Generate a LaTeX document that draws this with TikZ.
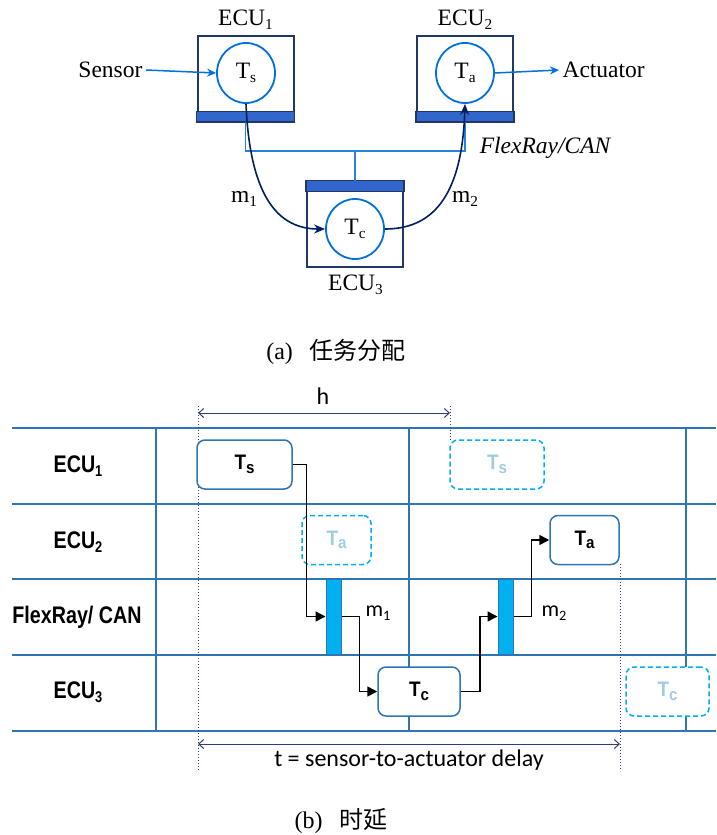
\documentclass[tikz,border=0pt]{standalone}
\usepackage{fontspec}
\setmainfont{Liberation Serif}
\newfontfamily\cjk{Noto Sans CJK SC}
\newfontfamily\arl[FakeStretch=0.82]{Liberation Sans}
\newfontfamily\arlt[FakeStretch=0.9]{Liberation Sans}
\newfontfamily\calfnt{Carlito}
\usetikzlibrary{arrows.meta,shapes.geometric}
\newcommand{\mysub}[1]{\raisebox{-0.35ex}{\scalebox{0.65}{#1}}}
\newcommand{\tsub}[1]{\raisebox{-0.3ex}{\scalebox{0.8}{#1}}}
\definecolor{navy}{RGB}{31,56,100}
\definecolor{bandblue}{RGB}{51,102,204}
\definecolor{ellblue}{RGB}{0,112,220}
\definecolor{busblue}{RGB}{40,130,220}
\definecolor{curvenavy}{RGB}{0,32,96}
\definecolor{gridblue}{RGB}{46,117,182}
\definecolor{ghostline}{RGB}{0,176,240}
\definecolor{ghosttext}{RGB}{160,205,225}
\definecolor{barcyan}{RGB}{0,176,240}
\definecolor{dotnavy}{RGB}{50,60,120}
\tikzset{
  topfont/.style={font=\fontsize{23.5}{28}\selectfont},
  ecubox/.style={draw=navy, line width=2pt, minimum width=96pt, minimum height=85pt, inner sep=0pt},
  band/.style={fill=bandblue, draw=navy, line width=1.5pt},
  taskell/.style={ellipse, draw=ellblue, line width=1.8pt, minimum width=58pt, minimum height=60pt, inner sep=0pt, topfont},
  bus/.style={busblue, line width=1.5pt},
  ioarrow/.style={ellblue, line width=1.5pt, -{Stealth[length=9pt,width=8pt]}},
  msgcurve/.style={curvenavy, line width=1.6pt, -{Stealth[length=11pt,width=9pt]}},
  gridh/.style={gridblue, line width=2.5pt},
  gridv/.style={gridblue, line width=1.3pt},
  rowlabel/.style={font=\arl\bfseries\fontsize{24}{24}\selectfont},
  task/.style={draw=gridblue, rounded corners=8pt, line width=1.5pt, fill=white, minimum height=49pt, inner sep=0pt, font=\arlt\bfseries\fontsize{21}{21}\selectfont},
  ghosttask/.style={task, draw=ghostline, dash pattern=on 5pt off 3pt, text=ghosttext},
  msgbar/.style={fill=barcyan, draw=gridblue, line width=1pt, minimum width=15pt, minimum height=75pt, inner sep=0pt},
  flow/.style={black, line width=1.5pt, -{Triangle[length=10pt,width=10pt]}},
  dotline/.style={dotnavy, dotted, line width=1pt},
  dimarrow/.style={dotnavy, line width=1pt, {Straight Barb[length=5pt,width=9pt]}-{Straight Barb[length=5pt,width=9pt]}},
  calfont/.style={font=\calfnt\fontsize{24}{28}\selectfont},
  msgfont/.style={font=\calfnt\fontsize{22}{26}\selectfont}
}
\begin{document}
\begin{tikzpicture}[x=1pt,y=-1pt]
\useasboundingbox (0,0) rectangle (716,835);
% ---------- (a) ----------
\node[ecubox] (e1) at (245.5,78.5) {};
\node[ecubox] (e2) at (465,78.5) {};
\node[ecubox] (e3) at (355,224) {};
\fill[band] (e1.south west) rectangle ([yshift=10.5pt]e1.south east);
\fill[band] (e2.south west) rectangle ([yshift=10.5pt]e2.south east);
\fill[band] (e3.north west) rectangle ([yshift=-11pt]e3.north east);
\node[taskell] (ts) at (246,73) {T\mysub{s}};
\node[taskell] (ta) at (465,73) {T\mysub{a}};
\node[taskell] (tc) at (355,229) {T\mysub{c}};
\node[topfont] (l1) at (245.5,20) {ECU\mysub{1}};
\node[topfont] (l2) at (465,20) {ECU\mysub{2}};
\node[topfont] (l3) at (355.5,285) {ECU\mysub{3}};
\node[topfont, anchor=east] (sensor) at (146,70) {Sensor};
\node[topfont, anchor=west] (act) at (559,70) {Actuator};
\draw[ioarrow] (sensor.east) -- (ts.west);
\draw[ioarrow] (ta.east) -- (act.west);
\coordinate (busL) at (245.5,151);
\draw[bus] (e1.south) -- (busL) -- (busL -| e2.south) -- (e2.south);
\draw[bus] (e3.north) -- (e3.north |- busL);
\draw[msgcurve] (ts.south) .. controls (250,200) and (280,229) .. (tc.west);
\draw[msgcurve] (tc.east) .. controls (430,229) and (462,200) .. (ta.south);
\node[topfont] (m1a) at (244,199) {m\mysub{1}};
\node[topfont] (m2a) at (465,199) {m\mysub{2}};
\node[topfont] (bus) at (545,148) {\itshape FlexRay/CAN};
\node[font=\fontsize{24}{28}\selectfont] (capa) at (336,352) {(a)\hspace{0.7em}{\cjk 任务分配}};
% ---------- (b) ----------
\foreach \yy in {428,504,579,655,731} \draw[gridh] (12,\yy) -- (716,\yy);
\foreach \xx in {156,409,686} \draw[gridv] (\xx,428) -- (\xx,731);
\node[rowlabel] (r1) at (78,466) {ECU\mysub{1}};
\node[rowlabel] (r2) at (78,542) {ECU\mysub{2}};
\node[rowlabel] (r3) at (77,617) {FlexRay/ CAN};
\node[rowlabel] (r4) at (78,692) {ECU\mysub{3}};
% dotted guides
\coordinate (hL) at (198,413);
\coordinate (hR) at (450,413);
\coordinate (tL) at (198,744);
\coordinate (tR) at (620,744);
\draw[dotline] (198,406) -- (198,771);
\draw[dotline] (450,406) -- (450,442);
\draw[dotline] (620,564) -- (620,771);
% tasks
\node[task, minimum width=95pt] (tsb) at (244.5,464.5) {T\tsub{s}};
\node[ghosttask, minimum width=94pt] (gts) at (497,464.5) {T\tsub{s}};
\node[ghosttask, minimum width=69pt] (gta) at (336.5,540) {T\tsub{a}};
\node[task, minimum width=69pt] (tab) at (584.5,540) {T\tsub{a}};
\node[task, minimum width=82pt] (tcb) at (419,691.5) {T\tsub{c}};
\node[ghosttask, minimum width=83pt] (gtc) at (667.5,691.5) {T\tsub{c}};
\node[msgbar] (bar1) at (333.5,616.5) {};
\node[msgbar] (bar2) at (505.5,616.5) {};
% flows
\draw[flow] (tsb.east) -| ([xshift=-19pt]bar1.west) -- (bar1.west);
\draw[flow] (bar1.east) -- ++(18,0) |- (tcb.west);
\draw[flow] (tcb.east) -- ++(19,0) |- (bar2.west);
\draw[flow] (bar2.east) -- ++(18,0) |- (tab.west);
\node[msgfont] (m1b) at (378,613) {m\mysub{1}};
\node[msgfont] (m2b) at (554,613) {m\mysub{2}};
% dimensions
\draw[dimarrow] (hL) -- (hR);
\node[calfont] (hlab) at (323,396) {h};
\draw[dimarrow] (tL) -- (tR);
\node[calfont] (tlab) at (409,760) {t = sensor-to-actuator delay};
\node[font=\fontsize{24}{28}\selectfont] (capb) at (341,821) {(b)\hspace{0.7em}{\cjk 时延}};
\end{tikzpicture}
\end{document}
